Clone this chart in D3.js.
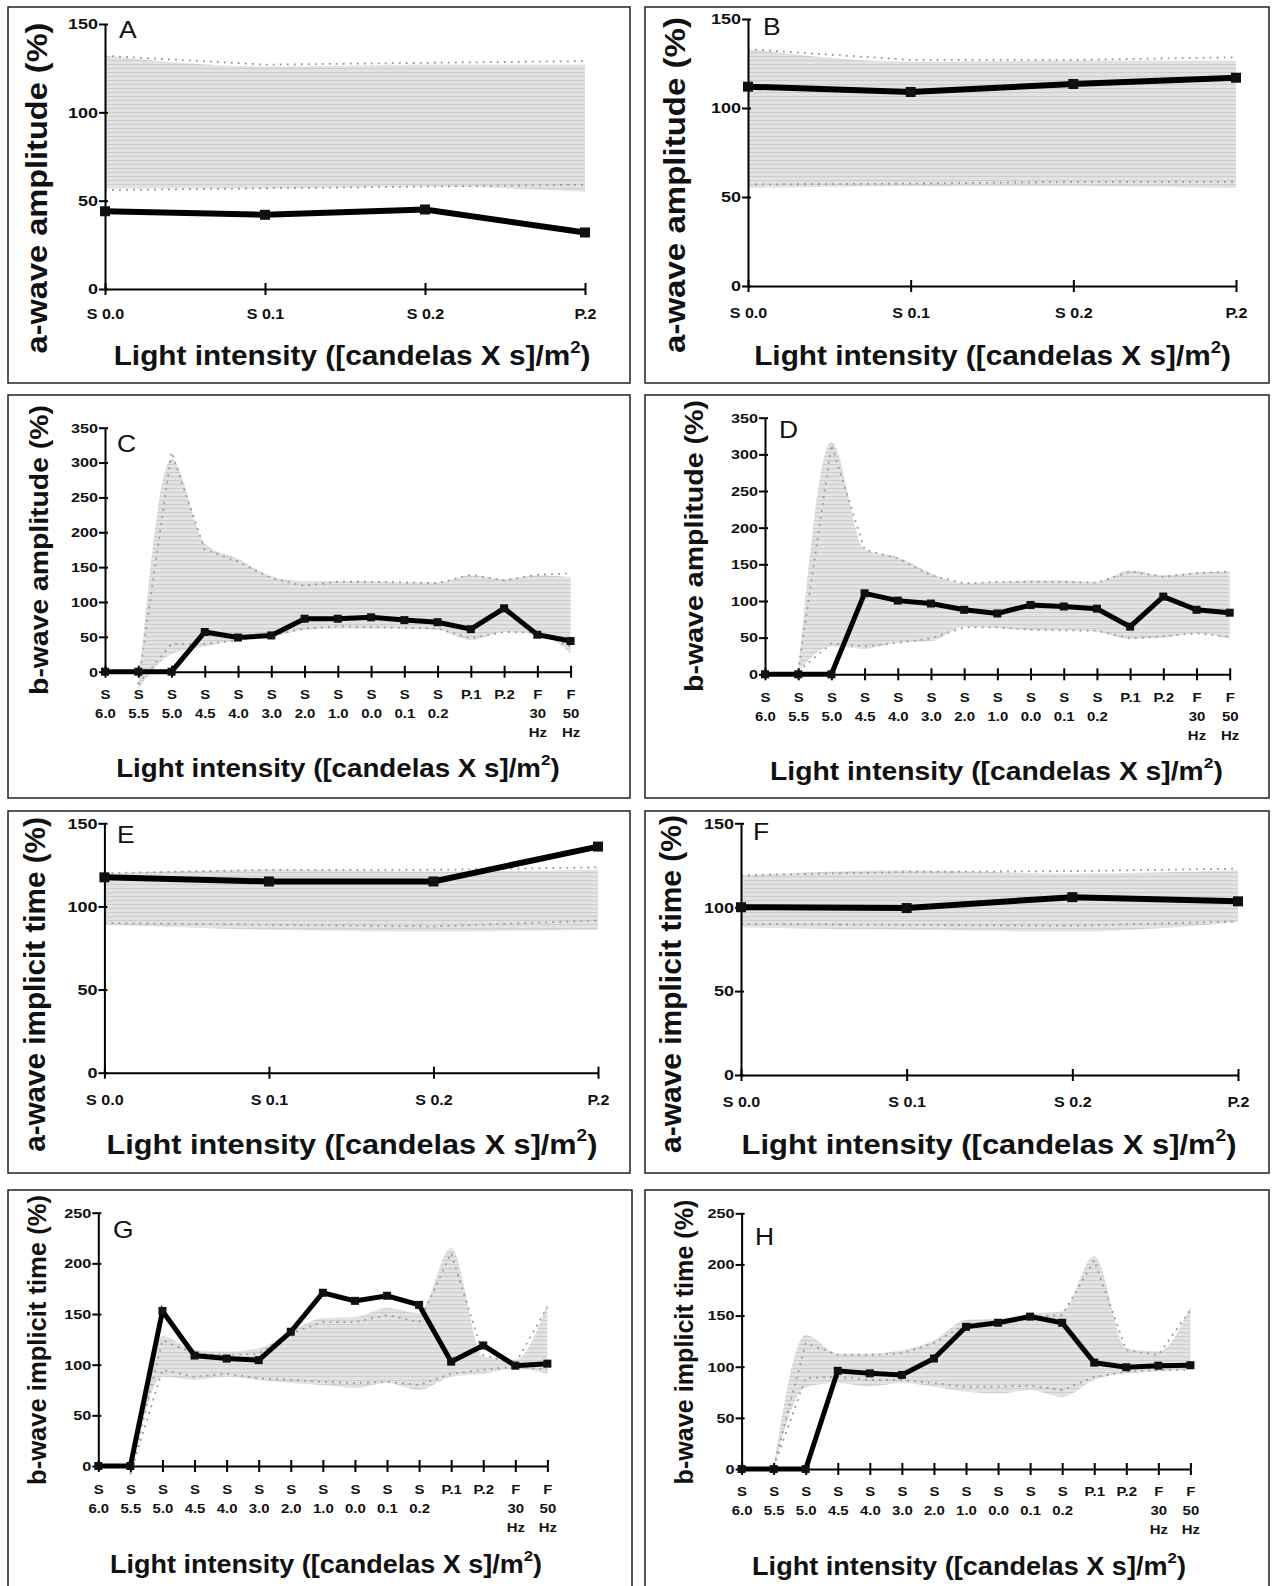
<!DOCTYPE html>
<html>
<head>
<meta charset="utf-8">
<script src="https://cdn.jsdelivr.net/npm/d3@7"></script>
<style>
  body { margin: 0; background: #fff; }
  svg { display: block; }
  text { font-family: "Liberation Sans", Arial, sans-serif; }
</style>
</head>
<body>
<div id="chart"></div>
<script>
// categories and tick labels
var shortCats = ["S 0.0", "S 0.1", "S 0.2", "P.2"];
var fullCats = ["S 6.0", "S 5.5", "S 5.0", "S 4.5", "S 4.0", "S 3.0", "S 2.0", "S 1.0",
  "S 0.0", "S 0.1", "S 0.2", "P.1", "P.2", "F 30 Hz", "F 50 Hz"];
var ticks150 = [0, 50, 100, 150];
var ticks250 = [0, 50, 100, 150, 200, 250];
var ticks350 = [0, 50, 100, 150, 200, 250, 300, 350];

// A: a-wave amplitude (left eye)
var lineA = [44, 42, 45, 32];
var fillHiA = [132, 126, 127, 127];
var fillLoA = [57, 57, 58, 55];
var sdHiA = [132, 127, 128, 129];
var sdLoA = [56, 57, 58, 59];

// B: a-wave amplitude (right eye)
var lineB = [112, 109, 113.5, 117];
var fillHiB = [133, 126, 126.5, 126.5];
var fillLoB = [55, 56, 56, 55];
var sdHiB = [133, 127, 127, 128.5];
var sdLoB = [57, 57.5, 58.5, 58.5];

// C: b-wave amplitude
var lineC = [0, 0, 0, 57, 49, 52, 76, 76, 78, 74, 71, 61, 91, 53, 44];
var fillHiC = [null, -22, 305, 184, 162, 137, 130, 130, 130, 128, 128, 138, 133, 138, 136];
var fillLoC = [null, -25, 25, 36, 45, 50, 60, 62, 62, 62, 60, 45, 57, 55, 26];
var sdHiC = [null, -18, 315, 175, 158, 134, 123, 129, 129, 128, 127, 139, 131, 139, 141];
var sdLoC = [null, -18, 40, 40, 45, 52, 62, 65, 64, 63, 62, 48, 57, 56, 36];

// D: b-wave amplitude
var lineD = [0, 0, 0, 110.5, 100.5, 96.5, 88, 83, 94.5, 92.5, 89.5, 65, 106, 88, 84];
var fillHiD = [null, 4, 317, 170, 160, 138, 124, 126, 128, 128, 126, 142, 135, 139, 140];
var fillLoD = [null, 4, 38, 35, 43, 45, 65, 63, 60, 60, 58, 48, 50, 56, 48];
var sdHiD = [null, 4, 313, 170, 158, 135, 124, 126, 126, 126, 125, 140, 133, 138, 140];
var sdLoD = [null, 4, 42, 38, 43, 49, 64, 64, 61, 60, 59.5, 49, 52, 56, 51];

// E: a-wave implicit time
var lineE = [117.5, 115, 115, 136];
var fillHiE = [120, 122, 121, 122];
var fillLoE = [89, 86, 85, 86];
var sdHiE = [120, 122, 122, 123.5];
var sdLoE = [90, 89, 88, 91.5];

// F: a-wave implicit time
var lineF = [100, 99.5, 106, 103.5];
var fillHiF = [119, 122, 120, 122];
var fillLoF = [88, 86.5, 85.5, 91];
var sdHiF = [119, 121, 121.5, 123];
var sdLoF = [90, 89.5, 89, 91.5];

// G: b-wave implicit time
var lineG = [0, 0, 153, 109, 106, 104.5, 132.5, 171, 163, 168, 159, 103, 119, 99, 101];
var fillHiG = [null, -14, 128, 114.5, 113, 116, 133, 146, 147, 156, 151, 215, 108, 105, 160];
var fillLoG = [null, -14, 88, 85, 88, 85, 82, 80, 77, 82, 75, 88, 91, 96, 91];
var sdHiG = [null, -8, 124, 111, 109.5, 111, 131, 142, 142, 149, 142, 210, 109.5, 101, 157];
var sdLoG = [null, -8, 95, 88, 91, 86.5, 85, 83, 82, 83, 80, 91, 95, 98, 95];

// H: b-wave implicit time
var lineH = [0, 0, 0, 96, 93.5, 92, 108, 139, 143, 149, 143, 104, 99.5, 101, 101.5];
var fillHiH = [null, 0, 131, 113, 113, 116, 126, 146, 147, 152, 154, 208, 118, 115, 159];
var fillLoH = [null, 0, 80, 84, 80.5, 84, 80.5, 75.5, 74, 77, 70.5, 87, 93.5, 95, 97];
var sdHiH = [null, 2, 123, 111.5, 111.5, 113, 123, 142, 144, 149, 150.5, 204, 116, 111.5, 155.5];
var sdLoH = [null, 2, 89, 90, 87, 87, 84, 80.5, 80.5, 81.5, 77, 90, 95, 97, 97];

var xTitle = "Light intensity ([candelas X s]/m";

// panel layout (positions only)
var panels = [
  { label: "A", cats: shortCats, line: lineA, hi: fillHiA, lo: fillLoA, sdHi: sdHiA, sdLo: sdLoA,
    yMax: 150, yTicks: ticks150, yTitle: "a-wave amplitude (%)",
    frame: [8, 7, 630, 383], x0: 105, x1: 585, yTop: 24, yBot: 289, tickDy: 30,
    lab: [119, 38], xt: [352, 357, 477, 27], yt: [38.5, 188, 331, 29], big: true },
  { label: "B", cats: shortCats, line: lineB, hi: fillHiB, lo: fillLoB, sdHi: sdHiB, sdLo: sdLoB,
    yMax: 150, yTicks: ticks150, yTitle: "a-wave amplitude (%)",
    frame: [645, 7, 1269, 383], x0: 748, x1: 1236, yTop: 19, yBot: 286, tickDy: 32,
    lab: [763, 35], xt: [992.5, 357, 477, 27], yt: [676.6, 185, 336, 29], big: true },
  { label: "C", cats: fullCats, line: lineC, hi: fillHiC, lo: fillLoC, sdHi: sdHiC, sdLo: sdLoC,
    yMax: 350, yTicks: ticks350, yTitle: "b-wave amplitude (%)",
    frame: [8, 395, 630, 798], x0: 105, x1: 570.6, yTop: 427.7, yBot: 671.7, tickDy: 27,
    lab: [117, 451.7], xt: [338, 769, 444, 25], yt: [41, 550, 290, 26], big: false },
  { label: "D", cats: fullCats, line: lineD, hi: fillHiD, lo: fillLoD, sdHi: sdHiD, sdLo: sdLoD,
    yMax: 350, yTicks: ticks350, yTitle: "b-wave amplitude (%)",
    frame: [645, 395, 1269, 798], x0: 765, x1: 1229.7, yTop: 417.7, yBot: 674.3, tickDy: 28,
    lab: [779, 438], xt: [996.5, 772.5, 453, 25], yt: [696, 546, 292, 26], big: false },
  { label: "E", cats: shortCats, line: lineE, hi: fillHiE, lo: fillLoE, sdHi: sdHiE, sdLo: sdLoE,
    yMax: 150, yTicks: ticks150, yTitle: "a-wave implicit time (%)",
    frame: [8, 811, 630, 1173], x0: 104.4, x1: 598, yTop: 823.3, yBot: 1072.7, tickDy: 32,
    lab: [117, 842.7], xt: [352, 1145.5, 491, 27], yt: [36.5, 984.5, 335, 29], big: true },
  { label: "F", cats: shortCats, line: lineF, hi: fillHiF, lo: fillLoF, sdHi: sdHiF, sdLo: sdLoF,
    yMax: 150, yTicks: ticks150, yTitle: "a-wave implicit time (%)",
    frame: [645, 811, 1269, 1173], x0: 741, x1: 1238, yTop: 823.3, yBot: 1075, tickDy: 32,
    lab: [753, 840], xt: [989, 1145.5, 495, 27], yt: [672.5, 984, 338, 29], big: true },
  { label: "G", cats: fullCats, line: lineG, hi: fillHiG, lo: fillLoG, sdHi: sdHiG, sdLo: sdLoG,
    yMax: 250, yTicks: ticks250, yTitle: "b-wave implicit time (%)",
    frame: [8, 1190, 632, 1600], x0: 98.3, x1: 547.4, yTop: 1212.7, yBot: 1466, tickDy: 28,
    lab: [113, 1238], xt: [326, 1565.5, 432, 25], yt: [38.6, 1340, 290, 26], big: false },
  { label: "H", cats: fullCats, line: lineH, hi: fillHiH, lo: fillLoH, sdHi: sdHiH, sdLo: sdLoH,
    yMax: 250, yTicks: ticks250, yTitle: "b-wave implicit time (%)",
    frame: [645, 1190, 1269, 1600], x0: 741.6, x1: 1190.4, yTop: 1213.3, yBot: 1469, tickDy: 27.5,
    lab: [755, 1245], xt: [969, 1567.5, 434, 25], yt: [686, 1342, 285, 26], big: false }
];

var svg = d3.select("#chart").append("svg")
  .attr("width", 1272)
  .attr("height", 1586);

// striped grey fill like the scanned figure
var pat = svg.append("defs").append("pattern")
  .attr("id", "stripes")
  .attr("patternUnits", "userSpaceOnUse")
  .attr("width", 8)
  .attr("height", 4);
pat.append("rect").attr("width", 8).attr("height", 4).attr("fill", "#e2e2e2");
pat.append("rect").attr("width", 8).attr("height", 1).attr("fill", "#cdcdcd");

panels.forEach(drawPanel);

function drawPanel(p) {
  var g = svg.append("g").attr("class", "panel");

  g.append("rect")
    .attr("x", p.frame[0]).attr("y", p.frame[1])
    .attr("width", p.frame[2] - p.frame[0])
    .attr("height", p.frame[3] - p.frame[1])
    .attr("fill", "none")
    .attr("stroke", "#222")
    .attr("stroke-width", 1.5);

  var x = d3.scalePoint().domain(p.cats).range([p.x0, p.x1]);
  var y = d3.scaleLinear().domain([0, p.yMax]).range([p.yBot, p.yTop]);

  var rows = p.cats.map(function(c, i) {
    return { c: c, v: p.line[i], hi: p.hi[i], lo: p.lo[i], sdHi: p.sdHi[i], sdLo: p.sdLo[i] };
  });

  // normal range band
  var area = d3.area()
    .defined(function(d) { return d.hi != null; })
    .x(function(d) { return x(d.c); })
    .y0(function(d) { return y(d.lo); })
    .y1(function(d) { return y(d.hi); })
    .curve(d3.curveMonotoneX);
  g.append("path").datum(rows)
    .attr("d", area)
    .attr("fill", "url(#stripes)");

  // dotted SD limits
  ["sdHi", "sdLo"].forEach(function(k) {
    var dl = d3.line()
      .defined(function(d) { return d[k] != null; })
      .x(function(d) { return x(d.c); })
      .y(function(d) { return y(d[k]); });
    g.append("path").datum(rows)
      .attr("d", dl)
      .attr("fill", "none")
      .attr("stroke", "#9c9c9c")
      .attr("stroke-width", 1.8)
      .attr("stroke-dasharray", "2,5");
  });

  // x axis with crossing ticks
  var gx = g.append("g")
    .attr("transform", "translate(0," + p.yBot + ")")
    .call(d3.axisBottom(x).tickSize(6).tickSizeOuter(0).tickFormat(""));
  gx.select(".domain").attr("stroke", "#000").attr("stroke-width", 2);
  gx.selectAll(".tick line").attr("y1", -6).attr("stroke", "#000").attr("stroke-width", 2);
  gx.selectAll(".tick text").remove();
  gx.selectAll(".tick").each(function(c) {
    var t = d3.select(this).append("text")
      .attr("text-anchor", "middle")
      .attr("font-weight", "bold")
      .attr("font-size", p.big ? 14 : 13)
      .attr("fill", "#111")
      .attr("transform", "scale(1.15,1)");
    var lines = p.big ? [c] : c.split(" ");
    lines.forEach(function(s, k) {
      t.append("tspan").attr("x", 0).attr("y", p.tickDy + k * 19).text(s);
    });
  });

  // y axis
  var gy = g.append("g")
    .attr("transform", "translate(" + p.x0 + ",0)")
    .call(d3.axisLeft(y).tickValues(p.yTicks).tickSize(6).tickSizeOuter(0));
  gy.select(".domain").attr("stroke", "#000").attr("stroke-width", 2);
  gy.selectAll(".tick line").attr("x1", 3).attr("stroke", "#000").attr("stroke-width", 2);
  gy.selectAll(".tick text")
    .attr("x", -7 / 1.2)
    .attr("transform", "scale(1.2,1)")
    .attr("font-size", p.big ? 15 : 13.5)
    .attr("font-weight", "bold")
    .attr("fill", "#111");

  // patient line
  var line = d3.line()
    .x(function(d) { return x(d.c); })
    .y(function(d) { return y(d.v); });
  g.append("path").datum(rows)
    .attr("d", line)
    .attr("fill", "none")
    .attr("stroke", "#000")
    .attr("stroke-width", p.big ? 6 : 5)
    .attr("stroke-linejoin", "miter");

  var m = p.big ? 10 : 8;
  g.selectAll("rect.mark").data(rows).enter().append("rect")
    .attr("class", "mark")
    .attr("x", function(d) { return x(d.c) - m / 2; })
    .attr("y", function(d) { return y(d.v) - m / 2; })
    .attr("width", m)
    .attr("height", m)
    .attr("fill", "#111");

  // panel letter
  g.append("text")
    .attr("transform", "translate(" + p.lab[0] + "," + p.lab[1] + ") scale(1.1,1)")
    .attr("font-size", 24)
    .attr("fill", "#111")
    .text(p.label);

  // x title, stretched to the measured width
  var xg = g.append("g");
  var xt = xg.append("text")
    .attr("text-anchor", "middle")
    .attr("font-weight", "bold")
    .attr("font-size", p.xt[3])
    .attr("dy", "0.3em")
    .attr("fill", "#111");
  xt.append("tspan").text(xTitle);
  xt.append("tspan").attr("font-size", "0.62em").attr("dy", "-0.75em").text("2");
  xt.append("tspan").attr("dy", "0.47em").text(")");
  var wx = xt.node().getBBox().width;
  xg.attr("transform", "translate(" + p.xt[0] + "," + p.xt[1] + ") scale(" + (p.xt[2] / wx) + ",1)");

  // y title, rotated
  var yg = g.append("g");
  var yt = yg.append("text")
    .attr("text-anchor", "middle")
    .attr("font-weight", "bold")
    .attr("font-size", p.yt[3])
    .attr("dy", "0.28em")
    .attr("fill", "#111")
    .text(p.yTitle);
  var wy = yt.node().getBBox().width;
  yg.attr("transform", "translate(" + p.yt[0] + "," + p.yt[1] + ") rotate(-90) scale(" + (p.yt[2] / wy) + ",1)");
}
</script>
</body>
</html>
